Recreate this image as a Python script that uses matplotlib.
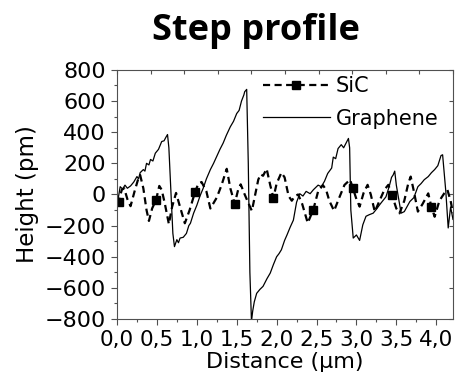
import matplotlib
matplotlib.use("Agg")
import matplotlib.pyplot as plt
from matplotlib.ticker import MultipleLocator
import numpy as np

# graphene step profile (distance in um, height in pm)
graphene_x = [0.00, 0.02, 0.04, 0.07, 0.10, 0.13, 0.17, 0.21, 0.25, 0.27, 0.29, 0.33, 0.35, 0.37,
              0.40, 0.42, 0.45, 0.48, 0.52, 0.56, 0.59, 0.61, 0.633, 0.65, 0.70, 0.72, 0.75, 0.77,
              0.79, 0.83, 0.87, 0.90, 0.92, 0.96, 1.00, 1.04, 1.08, 1.12, 1.17, 1.21, 1.25, 1.29,
              1.33, 1.37, 1.42, 1.46, 1.50, 1.53, 1.56, 1.59, 1.60, 1.625, 1.645, 1.665, 1.685,
              1.70, 1.72, 1.75, 1.79, 1.83, 1.88, 1.92, 1.96, 2.00, 2.03, 2.06, 2.10, 2.13, 2.17,
              2.21, 2.25, 2.29, 2.33, 2.37, 2.42, 2.46, 2.52, 2.56, 2.60, 2.64, 2.69, 2.71, 2.74,
              2.77, 2.81, 2.84, 2.87, 2.90, 2.915, 2.93, 2.96, 3.00, 3.04, 3.08, 3.12, 3.16, 3.21,
              3.25, 3.30, 3.37, 3.41, 3.44, 3.46, 3.48, 3.50, 3.54, 3.56, 3.60, 3.67, 3.72, 3.77,
              3.81, 3.85, 3.90, 3.94, 3.98, 4.02, 4.06, 4.08, 4.12, 4.15, 4.18, 4.21]
graphene_y = [-70, -10, 50, 35, 60, 40, 55, 80, 115, 100, 140, 160, 150, 200,
              190, 225, 215, 265, 290, 340, 345, 365, 385, 300, -250, -335, -290, -310,
              -280, -275, -250, -200, -185, -120, -70, -10, 40, 100, 160, 200, 245, 290,
              330, 380, 435, 470, 520, 540, 600, 640, 660, 675, 200, -500, -815,
              -750, -690, -635, -610, -590, -540, -505, -450, -400, -380, -355, -295, -260, -210,
              -165, -50, 5, -10, 20, 5, 30, 60, 50, 85, 135, 170, 240, 230,
              295, 320, 300, 330, 360, 300, -100, -280, -260, -295, -195, -140, -130, -120,
              -95, -60, -15, 50, 110, 125, 150, 60, -60, -120, -110, -45, -20, 50,
              70, 95, 115, 140, 160, 185, 250, 255, 20, -215, -80, -160]

# SiC substrate profile
sic_x = [0.00, 0.02, 0.06, 0.09, 0.13, 0.17, 0.22, 0.26, 0.29, 0.33, 0.37, 0.40, 0.44, 0.49,
         0.53, 0.56, 0.60, 0.65, 0.69, 0.74, 0.79, 0.85, 0.91, 0.98, 1.02, 1.06, 1.12, 1.17,
         1.25, 1.31, 1.375, 1.42, 1.475, 1.52, 1.55, 1.60, 1.65, 1.69, 1.74, 1.77, 1.80, 1.83,
         1.875, 1.92, 1.96, 2.00, 2.06, 2.10, 2.15, 2.19, 2.23, 2.27, 2.32, 2.39, 2.46, 2.52,
         2.58, 2.62, 2.66, 2.72, 2.79, 2.85, 2.92, 2.955, 3.00, 3.04, 3.09, 3.14, 3.18, 3.23,
         3.29, 3.35, 3.40, 3.445, 3.50, 3.54, 3.60, 3.65, 3.68, 3.72, 3.77, 3.83, 3.90, 3.94,
         3.98, 4.04, 4.10, 4.14, 4.18, 4.21]
sic_y = [-30, -46, 30, 40, -30, -75, 20, 90, 125, 40, -100, -170, -90, -34,
         55, 30, -60, -190, -80, 10, -80, -185, -100, 19, 70, 80, 20, -90,
         -20, 60, 165, 40, -60, 35, 65, 0, -60, -105, 20, 95, 130, 120,
         165, 60, -22, 70, 140, 110, -10, -40, -10, 0, -60, -183, -97, 20,
         60, 30, -40, -105, -14, 61, 95, 42, -30, -78, 10, 62, 0, -110,
         -40, 30, 62, -3, -90, -121, -40, 72, 115, 20, -110, -60, 7, -80,
         -143, -40, 7, 30, -40, -120]
sic_marks = [0.02, 0.49, 0.98, 1.475, 1.96, 2.46, 2.955, 3.445, 3.94]

xticks = [0.0, 0.5, 1.0, 1.5, 2.0, 2.5, 3.0, 3.5, 4.0]
xtick_labels = ["0,0", "0,5", "1,0", "1,5", "2,0", "2,5", "3,0", "3,5", "4,0"]
yticks = [-800, -600, -400, -200, 0, 200, 400, 600, 800]

plt.rcParams["font.family"] = ["DejaVu Sans"]

fig = plt.figure(figsize=(4.59, 3.78), dpi=100)
ax = fig.add_axes([0.2549, 0.156, 0.732, 0.659])

mark_idx = list(np.where(np.isin(sic_x, sic_marks))[0])
ax.plot(sic_x, sic_y, color="black", lw=1.6, ls=(0, (3.2, 2.0)),
        marker="s", ms=5.5, markevery=mark_idx, label="SiC")
ax.plot(graphene_x, graphene_y, color="black", lw=0.9, label="Graphene")

ax.set_xlim(0, 4.21)
ax.set_ylim(-800, 800)
ax.set_xticks(xticks)
ax.set_xticklabels(xtick_labels)
ax.set_yticks(yticks)
ax.xaxis.set_minor_locator(MultipleLocator(0.25))
ax.yaxis.set_minor_locator(MultipleLocator(100))

edge = "#505050"
for sp in ax.spines.values():
    sp.set_color(edge)
    sp.set_linewidth(0.8)
ax.tick_params(axis="both", which="major", direction="out", length=4, width=0.8, color=edge)
ax.tick_params(axis="both", which="minor", direction="out", length=2.5, width=0.8, color=edge)
ax.tick_params(axis="x", which="major", labelsize=15.5, pad=4)
ax.tick_params(axis="y", which="major", labelsize=16, pad=4)

# top and right axes carry inward ticks only
top = ax.secondary_xaxis("top")
top.set_xticks(np.linspace(0, 4.21, 11))
top.tick_params(direction="in", length=3, width=0.8, color=edge, labeltop=False)
top.spines["top"].set_visible(False)
right = ax.secondary_yaxis("right")
right.set_yticks(yticks)
right.tick_params(direction="in", length=3, width=0.8, color=edge, labelright=False)
right.spines["right"].set_visible(False)

ax.set_xlabel("Distance (μm)", fontsize=16, labelpad=1)
ax.set_ylabel("Height (pm)", fontsize=16.5, labelpad=4)

ax.legend(loc="upper left", bbox_to_anchor=(0.435, 0.975), frameon=False,
          fontsize=15, handlelength=3.2, handletextpad=0.3, labelspacing=0.6,
          borderpad=0, borderaxespad=0, numpoints=1)

fig.text(0.557, 0.894, "Step profile", ha="center", va="baseline",
         fontsize=26, fontweight="bold", family="Open Sans")

fig.savefig("out.png", dpi=100)
